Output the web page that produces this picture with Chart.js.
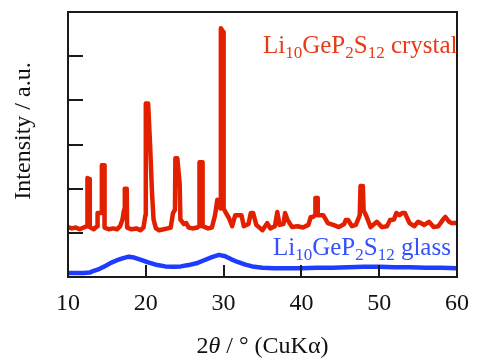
<!DOCTYPE html>
<html>
<head>
<meta charset="utf-8">
<script src="https://cdn.jsdelivr.net/npm/chart.js@4"></script>
<style>
  html, body { margin: 0; padding: 0; background: #fff; }
  #wrap { width: 481px; height: 358px; }
</style>
</head>
<body>
<div id="wrap"><canvas id="xrdChart" width="481" height="358"></canvas></div>
<script>
// 2theta (deg) and intensity
const crystalX = [10.0, 10.5, 11.0, 11.5, 12.0, 12.45, 12.5, 12.75, 12.8, 13.3, 13.75, 13.8, 14.3, 14.35, 14.65, 14.7,
  15.3, 15.8, 16.3, 16.7, 17.0, 17.2, 17.3, 17.55, 17.6, 18.2, 18.8, 19.3, 19.7, 19.95, 20.0, 20.3, 20.55, 20.8,
  21.0, 21.3, 21.7, 22.3, 22.8, 23.2, 23.5, 23.75, 23.8, 24.05, 24.35, 24.45, 24.9, 25.2, 25.5, 26.0, 26.6, 26.85, 26.9,
  27.25, 27.3, 28.0, 28.5, 28.9, 29.2, 29.6, 29.65, 29.95, 30.0, 30.3, 30.7, 31.1, 31.5, 32.3, 32.6, 33.2, 33.5, 33.8, 34.2,
  35.0, 35.6, 36.0, 36.6, 36.9, 37.2, 37.7, 37.9, 38.2, 38.8, 39.5, 40.2, 40.9, 41.2, 41.5, 41.75, 41.8, 42.05, 42.1,
  42.8, 43.4, 44.1, 44.8, 45.5, 45.7, 46.0, 46.5, 47.0, 47.5, 47.6, 47.9, 48.0, 48.3, 48.9, 49.7, 50.35, 51.0, 51.4,
  51.9, 52.2, 52.6, 53.0, 53.3, 53.9, 54.5, 55.0, 55.8, 56.4, 57.0, 57.6, 58.2, 58.5, 59.0, 59.3, 60.0];
const crystalY = [1.13, 1.10, 1.12, 1.08, 1.12, 1.15, 2.24, 2.22, 1.13, 1.08, 1.15, 1.45, 1.45, 2.53, 2.53, 1.12,
  1.08, 1.10, 1.08, 1.15, 1.30, 1.52, 2.00, 2.00, 1.12, 1.08, 1.10, 1.06, 1.12, 1.40, 3.93, 3.93, 3.00, 1.90,
  1.30, 1.10, 1.06, 1.08, 1.10, 1.12, 1.45, 1.52, 2.69, 2.69, 2.12, 1.30, 1.20, 1.22, 1.12, 1.10, 1.12, 1.15, 2.60,
  2.60, 1.15, 1.10, 1.12, 1.40, 1.75, 1.55, 5.63, 5.55, 1.55, 1.45, 1.33, 1.15, 1.40, 1.40, 1.15, 1.20, 1.45, 1.45, 1.18,
  1.06, 1.22, 1.10, 1.15, 1.47, 1.18, 1.20, 1.45, 1.30, 1.13, 1.15, 1.12, 1.18, 1.36, 1.36, 1.40, 1.79, 1.79, 1.40,
  1.40, 1.22, 1.18, 1.13, 1.20, 1.29, 1.29, 1.15, 1.18, 1.40, 2.06, 2.06, 1.50, 1.40, 1.13, 1.25, 1.13, 1.15, 1.29,
  1.30, 1.45, 1.40, 1.45, 1.45, 1.22, 1.15, 1.25, 1.18, 1.25, 1.13, 1.15, 1.30, 1.36, 1.25, 1.22, 1.22];

const glassX = [10, 11, 12, 12.8, 13.3, 14, 14.8, 15.5, 16.3, 17, 17.8, 18.5, 19.4, 20.3, 21.5, 22.5, 23.6, 24.5,
  25.5, 26.5, 27.5, 28.5, 29.4, 30.2, 31.0, 31.8, 32.8, 33.7, 35, 36.5, 38, 40, 42, 44, 46, 48, 50, 52, 54, 56, 58, 60];
const glassY = [0.09, 0.09, 0.09, 0.10, 0.14, 0.18, 0.25, 0.32, 0.38, 0.42, 0.46, 0.44, 0.39, 0.33, 0.27, 0.24, 0.23, 0.24,
  0.27, 0.31, 0.38, 0.45, 0.50, 0.47, 0.40, 0.34, 0.28, 0.24, 0.21, 0.20, 0.20, 0.20, 0.21, 0.21, 0.22, 0.23, 0.23, 0.22, 0.22, 0.21, 0.21, 0.20];

const xTicks = [10, 20, 30, 40, 50, 60];
const yTicks = [1, 2, 3, 4, 5];

const serif = '"Liberation Serif", "DejaVu Serif", serif';

// draw text made of runs (subscripts, italics)
function drawRuns(ctx, x, y, runs, color) {
    ctx.fillStyle = color;
    ctx.textBaseline = 'alphabetic';
    ctx.textAlign = 'left';
    runs.forEach(r => {
        ctx.font = (r.italic ? 'italic ' : '') + r.size + 'px ' + serif;
        ctx.fillText(r.t, x, y + (r.dy || 0));
        x += ctx.measureText(r.t).width;
    });
}

function formula(main, sub) {
    return [
        { t: 'Li', size: main }, { t: '10', size: sub, dy: 5 },
        { t: 'GeP', size: main }, { t: '2', size: sub, dy: 5 },
        { t: 'S', size: main }, { t: '12', size: sub, dy: 5 }
    ];
}

const framePlugin = {
    id: 'frame',
    afterDraw(chart) {
        const ctx = chart.ctx;
        const a = chart.chartArea;
        const xs = chart.scales.x, ys = chart.scales.y;
        ctx.save();
        ctx.strokeStyle = '#1a1a1a';
        ctx.lineWidth = 2;
        ctx.strokeRect(a.left, a.top, a.right - a.left, a.bottom - a.top);
        ctx.beginPath();
        yTicks.forEach(v => {
            const py = Math.round(ys.getPixelForValue(v));
            ctx.moveTo(a.left, py);
            ctx.lineTo(a.left + 15, py);
        });
        xTicks.slice(1, -1).forEach(v => {
            const px = Math.round(xs.getPixelForValue(v));
            ctx.moveTo(px, a.bottom);
            ctx.lineTo(px, a.bottom - 12);
        });
        ctx.stroke();

        // series labels
        drawRuns(ctx, 263, 53, formula(25, 17).concat([{ t: ' crystal', size: 25 }]), 'rgb(232, 58, 22)');
        drawRuns(ctx, 273, 255, formula(25, 17).concat([{ t: ' glass', size: 25 }]), 'rgb(52, 80, 255)');

        // x axis title
        const xRuns = [{ t: '2', size: 24 }, { t: '\u03b8', size: 24, italic: true }, { t: ' / \u00b0 (CuK\u03b1)', size: 24 }];
        let w = 0;
        xRuns.forEach(r => { ctx.font = (r.italic ? 'italic ' : '') + r.size + 'px ' + serif; w += ctx.measureText(r.t).width; });
        drawRuns(ctx, (a.left + a.right) / 2 - w / 2, 353, xRuns, '#111');

        // y axis title
        ctx.translate(30, 131);
        ctx.rotate(-Math.PI / 2);
        ctx.font = '24px ' + serif;
        ctx.textAlign = 'center';
        ctx.textBaseline = 'alphabetic';
        ctx.fillStyle = '#111';
        ctx.fillText('Intensity / a.u.', 0, 0);
        ctx.restore();
    }
};

document.addEventListener('DOMContentLoaded', function() {
    const ctx = document.getElementById('xrdChart').getContext('2d');
    new Chart(ctx, {
        type: 'line',
        data: {
            datasets: [{
                label: 'crystal',
                data: crystalX.map((x, i) => ({ x: x, y: crystalY[i] })),
                borderColor: 'rgb(226, 32, 0)',
                borderWidth: 4.5,
                borderJoinStyle: 'round',
                pointRadius: 0,
                tension: 0
            }, {
                label: 'glass',
                data: glassX.map((x, i) => ({ x: x, y: glassY[i] })),
                borderColor: 'rgb(30, 60, 255)',
                borderWidth: 4.5,
                borderJoinStyle: 'round',
                pointRadius: 0,
                tension: 0
            }]
        },
        options: {
            responsive: false,
            animation: false,
            layout: { padding: { left: 68, right: 14, top: 12, bottom: 0 } },
            plugins: {
                legend: { display: false },
                tooltip: { enabled: false }
            },
            scales: {
                x: {
                    type: 'linear',
                    min: 10,
                    max: 60,
                    grid: { display: false, drawTicks: false },
                    border: { display: false },
                    ticks: {
                        stepSize: 10,
                        padding: 12,
                        maxRotation: 0,
                        color: '#111',
                        font: { family: serif, size: 24 }
                    },
                    afterFit(scale) { scale.height = 81; }
                },
                y: {
                    display: false,
                    min: 0,
                    max: 6
                }
            }
        },
        plugins: [framePlugin]
    });
});
</script>
</body>
</html>
